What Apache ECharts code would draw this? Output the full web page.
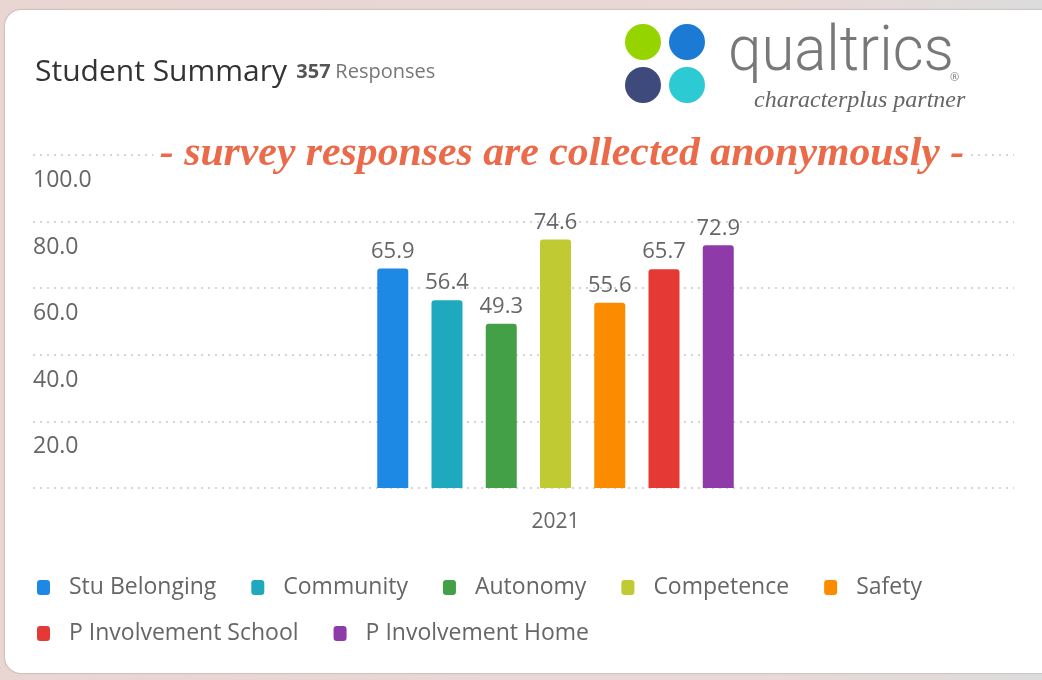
<!DOCTYPE html>
<html>
<head>
<meta charset="utf-8">
<script src="https://cdn.jsdelivr.net/npm/echarts@6/dist/echarts.min.js"></script>
<style>
  html, body { margin: 0; padding: 0; }
  body {
    width: 1042px; height: 680px; overflow: hidden; position: relative;
    background: linear-gradient(to right, #e9d5d2 0%, #e8d8d6 75%, #dcdcdc 100%);
  }
  .card {
    position: absolute; left: 5px; top: 10px; width: 1060px; height: 663px;
    background: #fff; border-radius: 16px;
    box-shadow: 0 0 2px rgba(0,0,0,0.35);
  }
  #chart { position: absolute; left: 0; top: 0; width: 1042px; height: 680px; }
</style>
</head>
<body>
<div class="card"></div>
<div id="chart"></div>
<script>
// chart data
var categories = ['2021'];
var seriesNames = ['Stu Belonging', 'Community', 'Autonomy', 'Competence', 'Safety',
                   'P Involvement School', 'P Involvement Home'];
var seriesValues = [65.9, 56.4, 49.3, 74.6, 55.6, 65.7, 72.9];
var seriesColors = ['#1e88e5', '#1fa9be', '#43a047', '#c0ca33', '#fb8c00', '#e53935', '#8e3aa9'];
var yMin = 0, yMax = 100, yStep = 20;
var responses = 357;

var font = '"Open Sans", "Noto Sans", sans-serif';
var grey = '#666';

var series = [];
for (var i = 0; i < seriesNames.length; i++) {
    series.push({
        name: seriesNames[i],
        type: 'bar',
        xAxisIndex: 1,
        yAxisIndex: 1,
        barWidth: 31,
        barGap: '75%',
        data: [seriesValues[i]],
        itemStyle: { color: seriesColors[i], borderRadius: [3, 3, 0, 0] },
        label: {
            show: true, position: 'top', distance: 6,
            color: grey, fontSize: 22, fontFamily: font,
            formatter: function (p) { return p.value.toFixed(1); }
        }
    });
}

var legendText = { color: grey, fontSize: 23, fontFamily: font, padding: [0, 0, 0, 14] };

var option = {
    animation: false,
    textStyle: { fontFamily: font },
    title: {
        left: 35, top: 57, padding: 0,
        text: '{a|Student Summary}  {b|' + responses + '} {c|Responses}',
        textStyle: {
            rich: {
                a: { fontSize: 30, color: '#333', fontWeight: 'normal', fontFamily: font },
                b: { fontSize: 20, color: '#555', fontWeight: 'bold', fontFamily: font },
                c: { fontSize: 20, color: '#777', fontWeight: 'normal', fontFamily: font }
            }
        }
    },
    legend: [
        {
            data: seriesNames.slice(0, 5),
            left: 37, top: 576, padding: 0,
            icon: 'roundRect', itemWidth: 13, itemHeight: 15, itemGap: 35,
            textStyle: legendText
        },
        {
            data: seriesNames.slice(5),
            left: 37, top: 622, padding: 0,
            icon: 'roundRect', itemWidth: 13, itemHeight: 15, itemGap: 35,
            textStyle: legendText
        }
    ],
    grid: [
        { left: 33, right: 28, top: 155, bottom: 192 },
        { left: 97, right: 28, top: 155, bottom: 192 }
    ],
    xAxis: [
        { type: 'category', gridIndex: 0, data: categories, show: false },
        {
            type: 'category', gridIndex: 1, data: categories,
            axisLine: { show: false }, axisTick: { show: false },
            axisLabel: { color: grey, fontSize: 21, margin: 24, fontFamily: font }
        }
    ],
    yAxis: [
        {
            type: 'value', gridIndex: 0, min: yMin, max: yMax, interval: yStep,
            axisLine: { show: false }, axisTick: { show: false },
            axisLabel: {
                inside: true, margin: 0, showMinLabel: false,
                align: 'left', verticalAlign: 'top', padding: [14, 0, 0, 0],
                color: grey, fontSize: 23, fontFamily: font,
                formatter: function (v) { return v.toFixed(1); }
            },
            splitLine: { lineStyle: { color: '#d4d4d4', width: 2, type: [2, 5] } }
        },
        {
            type: 'value', gridIndex: 1, min: yMin, max: yMax, interval: yStep,
            show: false, splitLine: { show: false }
        }
    ],
    graphic: [
        { type: 'circle', z: 100, shape: { cx: 643, cy: 42, r: 18 }, style: { fill: '#96d400' } },
        { type: 'circle', z: 100, shape: { cx: 687, cy: 42, r: 18 }, style: { fill: '#1a7ad4' } },
        { type: 'circle', z: 100, shape: { cx: 643, cy: 85, r: 18 }, style: { fill: '#3e4a7c' } },
        { type: 'circle', z: 100, shape: { cx: 687, cy: 85, r: 18 }, style: { fill: '#2ccad2' } },
        {
            type: 'text', z: 100, x: 728, y: 23, scaleX: 0.95,
            style: {
                text: 'qualtrics', fill: '#787878',
                font: '300 63px Roboto, "Open Sans", sans-serif'
            }
        },
        {
            type: 'text', z: 100, x: 950, y: 78,
            style: { text: '®', fill: '#787878', font: '11px "Open Sans", sans-serif', verticalAlign: 'middle' }
        },
        {
            type: 'text', z: 100, x: 754, y: 101,
            style: {
                text: 'characterplus partner', fill: '#666',
                font: 'italic 24px "Liberation Serif", "DejaVu Serif", serif',
                verticalAlign: 'middle'
            }
        },
        {
            type: 'text', z: 100, x: 562, y: 155, scaleX: 1.07,
            style: {
                text: '- survey responses are collected anonymously -',
                fill: '#ea6a4a',
                font: 'italic bold 39px "Liberation Serif", "DejaVu Serif", serif',
                align: 'center', verticalAlign: 'middle',
                backgroundColor: '#fff', padding: [0, 6]
            }
        }
    ],
    series: series
};

var chart = echarts.init(document.getElementById('chart'));
chart.setOption(option);
</script>
</body>
</html>
